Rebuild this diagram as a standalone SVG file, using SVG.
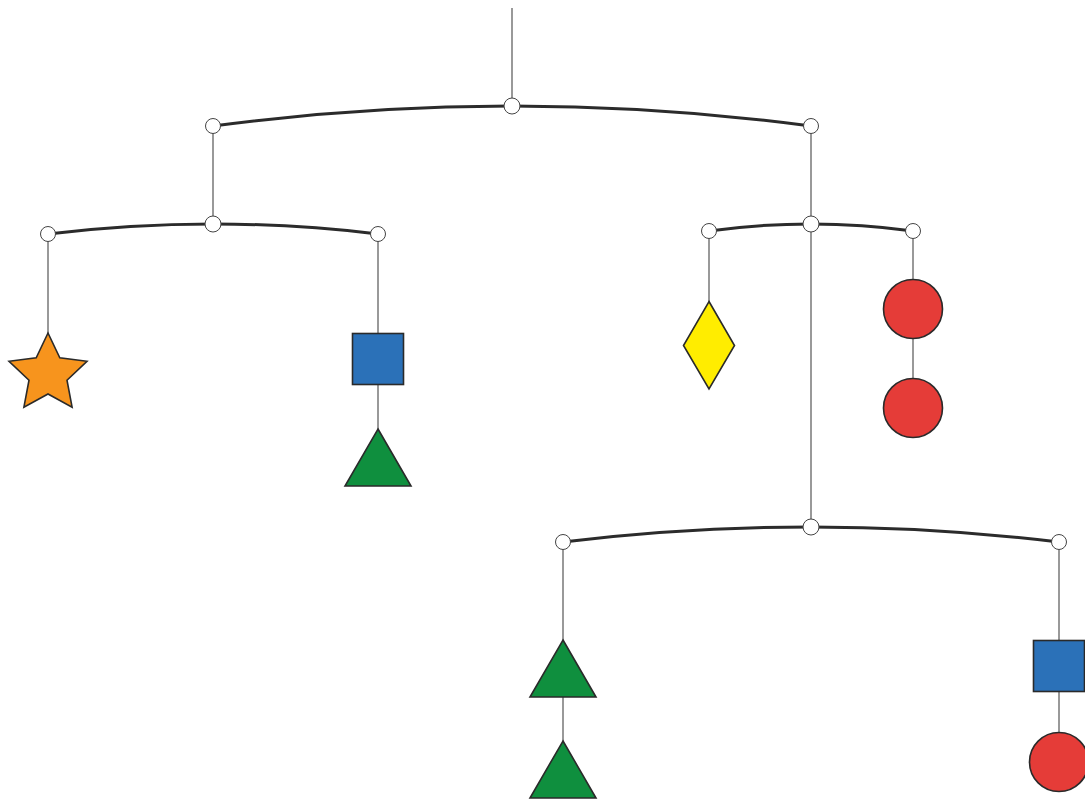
<svg xmlns="http://www.w3.org/2000/svg" width="1085" height="799" viewBox="0 0 1085 799">
<style>
.str{stroke:#555;stroke-width:1.2;fill:none}
.bar{stroke:#2b2b2b;stroke-width:3;fill:none;stroke-linecap:round}
.pv{fill:#fff;stroke:#444;stroke-width:1}
.sh{stroke:#2a2a2a;stroke-width:1.6;stroke-linejoin:miter}
.or{fill:#F7941D}.bl{fill:#2B71B8}.gr{fill:#0F8F3E}.ye{fill:#FFED00}.re{fill:#E53C38}
</style>
<g id="connectors">
<line class="str" x1="512" y1="8" x2="512" y2="106"/>
<line class="str" x1="213" y1="126" x2="213" y2="224"/>
<line class="str" x1="811" y1="126" x2="811" y2="527"/>
<line class="str" x1="48" y1="234" x2="48" y2="334"/>
<line class="str" x1="378" y1="234" x2="378" y2="429"/>
<line class="str" x1="709" y1="231" x2="709" y2="302"/>
<line class="str" x1="913" y1="231" x2="913" y2="408"/>
<line class="str" x1="563" y1="542" x2="563" y2="742"/>
<line class="str" x1="1059" y1="542" x2="1059" y2="762"/>
</g>
<g id="bar-top">
<path class="bar" d="M213 126 Q512 86 811 126"/>
<circle class="pv" cx="512" cy="106" r="8"/>
<circle class="pv" cx="213" cy="126" r="7.5"/>
<circle class="pv" cx="811" cy="126" r="7.5"/>
</g>
<g id="bar-left">
<path class="bar" d="M48 234 Q213 214 378 234"/>
<circle class="pv" cx="213" cy="224" r="8"/>
<circle class="pv" cx="48" cy="234" r="7.5"/>
<circle class="pv" cx="378" cy="234" r="7.5"/>
</g>
<g id="bar-right">
<path class="bar" d="M709 231 Q811 217 913 231"/>
<circle class="pv" cx="811" cy="224" r="8"/>
<circle class="pv" cx="709" cy="231" r="7.5"/>
<circle class="pv" cx="913" cy="231" r="7.5"/>
</g>
<g id="bar-bottom">
<path class="bar" d="M563 542 Q811 512 1059 542"/>
<circle class="pv" cx="811" cy="527" r="8"/>
<circle class="pv" cx="563" cy="542" r="7.5"/>
<circle class="pv" cx="1059" cy="542" r="7.5"/>
</g>
<g id="star">
<polygon class="sh or" points="48,333 59.8,357.8 87,361.3 67,380.2 72.1,407.2 48,394 23.9,407.2 29,380.2 9,361.3 36.2,357.8"/>
</g>
<g id="square-left">
<rect class="sh bl" x="352.5" y="333.5" width="51" height="51"/>
</g>
<g id="triangle-left">
<polygon class="sh gr" points="378,429 411,486 345,486"/>
</g>
<g id="diamond">
<polygon class="sh ye" points="709,301.5 734.5,345.5 709,389 683.5,345.5"/>
</g>
<g id="circle-red-1">
<circle class="sh re" cx="913" cy="309" r="29.5"/>
</g>
<g id="circle-red-2">
<circle class="sh re" cx="913" cy="408" r="29.5"/>
</g>
<g id="triangle-bottom-1">
<polygon class="sh gr" points="563,640 596,697 530,697"/>
</g>
<g id="triangle-bottom-2">
<polygon class="sh gr" points="563,741 596,798 530,798"/>
</g>
<g id="square-right">
<rect class="sh bl" x="1033.5" y="640.5" width="51" height="51"/>
</g>
<g id="circle-red-3">
<circle class="sh re" cx="1059" cy="762" r="29.5"/>
</g>
</svg>
